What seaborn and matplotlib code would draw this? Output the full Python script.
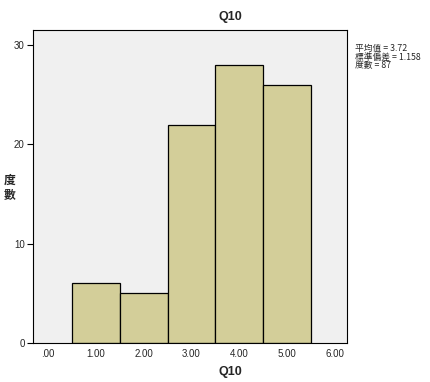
import seaborn as sns
import matplotlib.pyplot as plt
import pandas as pd
from matplotlib import font_manager as fm

# Q10 responses and counts
scores = [1, 2, 3, 4, 5]
counts = [6, 5, 22, 28, 26]
x_ticks = [0, 1, 2, 3, 4, 5, 6]
x_ticklabels = ['.00', '1.00', '2.00', '3.00', '4.00', '5.00', '6.00']
y_ticks = [0, 10, 20, 30]
stats_text = '平均值 = 3.72\n標準偏差 = 1.158\n度數 = 87'

sns.set_theme(style="white")
plt.rcParams['font.family'] = ['Noto Sans CJK TC', 'DejaVu Sans']

# pick the regular-width Liberation Sans (not the Narrow cut)
lib = [f for f in fm.fontManager.ttflist
       if f.name == 'Liberation Sans' and 'Narrow' not in f.fname]
reg = [f.fname for f in lib if f.weight in (400, 'normal') and f.style == 'normal']
bold = [f.fname for f in lib if f.weight in (700, 'bold') and f.style == 'normal']
fp = fm.FontProperties(fname=reg[0], size=7) if reg else fm.FontProperties(family='DejaVu Sans', size=6.5)
fpb = fm.FontProperties(fname=bold[0], size=9) if bold else fm.FontProperties(family='DejaVu Sans', weight='bold', size=8.5)

df = pd.DataFrame({'Q10': scores, 'n': counts})

fig = plt.figure(figsize=(4.3, 3.82), dpi=100)
ax = fig.add_axes([0.077, 0.102, 0.730, 0.819])
ax.set_facecolor('#f0f0f0')

sns.histplot(data=df, x='Q10', weights='n', discrete=True, ax=ax,
             color='#d3ce99', edgecolor='black', linewidth=0.9, alpha=1)

ax.set_xlim(-0.31, 6.25)
ax.set_ylim(0, 31.5)
ax.set_xticks(x_ticks)
ax.set_xticklabels(x_ticklabels, fontproperties=fp)
ax.set_yticks(y_ticks)
ax.set_yticklabels([str(v) for v in y_ticks], fontproperties=fp)
ax.tick_params(axis='y', left=True, length=4, width=0.8, color='black', pad=2)
ax.tick_params(axis='x', bottom=False, length=0, pad=4)
for s in ax.spines.values():
    s.set_color('black')
    s.set_linewidth(0.8)

ax.set_xlabel('')
ax.set_ylabel('')
fig.text(0.535, 0.027, 'Q10', fontproperties=fpb, ha='center', va='center')
fig.text(0.022, 0.51, '度\n數', fontsize=8.5, fontweight='bold', ha='center', va='center', linespacing=1.1)
fig.text(0.535, 0.955, 'Q10', fontproperties=fpb, ha='center', va='center')
fig.text(0.825, 0.885, stats_text, fontsize=6.3, ha='left', va='top', linespacing=0.95)

fig.savefig('out.png', dpi=100, facecolor='white')
